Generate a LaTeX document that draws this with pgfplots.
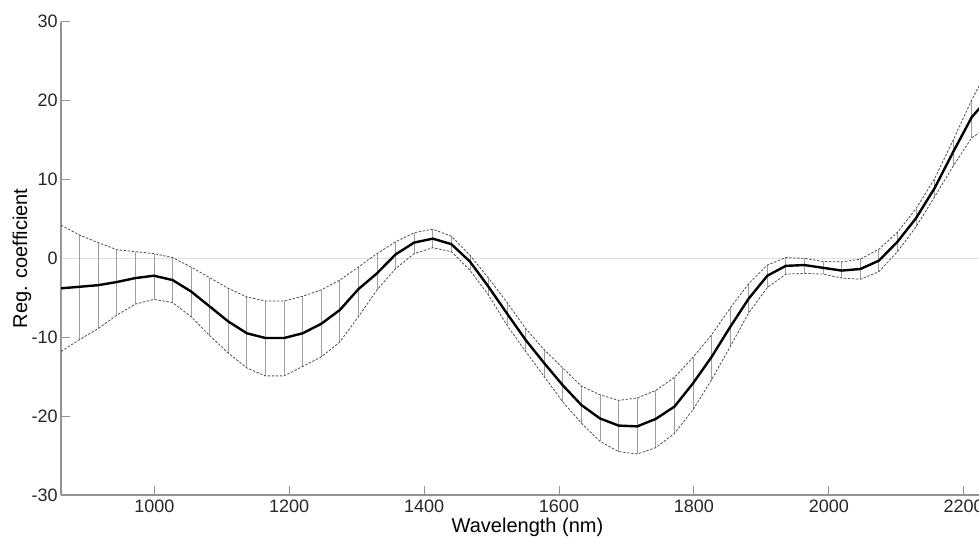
\documentclass[border=0pt]{standalone}
\usepackage{fontspec}
\setmainfont{Liberation Sans}
\usepackage{pgfplots}
\pgfplotsset{compat=1.18}
\usepackage{pgfplotstable}

\pgfplotstableread{
x      lo     y      up
861.6  -11.8  -3.8   4.2
889.2  -10.3  -3.6   2.95
916.7  -8.9   -3.4   2.0
944.3  -7.2   -3.0   1.1
971.8  -5.8   -2.5   0.85
999.4  -5.2   -2.2   0.6
1027.0 -5.6   -2.75  0.1
1054.5 -7.4   -4.2   -1.1
1082.1 -9.8   -6.1   -2.45
1109.6 -12.0  -8.0   -3.8
1137.2 -13.9  -9.5   -4.9
1164.8 -14.9  -10.1  -5.4
1192.3 -14.9  -10.1  -5.4
1219.9 -13.7  -9.5   -4.8
1247.4 -12.5  -8.3   -4.0
1275.0 -10.6  -6.55  -2.75
1302.6 -7.4   -3.9   -1.1
1330.1 -4.0   -1.9   0.6
1357.7 -1.3   0.5    2.1
1385.2 0.6    2.0    3.25
1412.8 1.35   2.5    3.7
1440.4 0.85   1.8    2.8
1467.9 -1.5   -0.4   0.4
1495.5 -4.65  -3.6   -2.5
1523.0 -8.5   -7.0   -5.6
1550.6 -11.8  -10.35 -8.9
1578.2 -15.0  -13.3  -11.6
1605.7 -18.2  -16.1  -13.9
1633.3 -20.9  -18.6  -16.2
1660.8 -23.2  -20.3  -17.3
1688.4 -24.5  -21.2  -18.0
1716.0 -24.8  -21.3  -17.7
1743.5 -24.0  -20.35 -16.75
1771.1 -22.2  -18.8  -15.1
1798.6 -19.2  -15.85 -12.55
1826.2 -15.4  -12.5  -9.7
1853.8 -11.2  -8.7   -6.3
1881.3 -6.9   -5.1   -3.2
1908.9 -3.7   -2.2   -0.85
1936.4 -2.0   -0.95  0.1
1964.0 -1.9   -0.85  0.0
1991.6 -2.0   -1.2   -0.4
2019.1 -2.5   -1.55  -0.45
2046.7 -2.65  -1.35  -0.1
2074.2 -1.7   -0.3   1.15
2101.8 0.85   2.1    3.3
2129.4 4.0    5.1    6.3
2156.9 7.8    8.9    10.1
2184.5 11.7   13.5   15.0
2212.0 15.3   17.9   20.1
2239.6 16.8   20.6   24.5
}\coef

\begin{document}
\begin{tikzpicture}
\begin{axis}[
  scale only axis, width=466.5pt, height=236.65pt,
  xmin=861.6, xmax=2245, ymin=-30, ymax=30,
  axis x line*=bottom, axis y line*=left,
  axis line style={gray!85, line width=0.6pt},
  xtick={1000,1200,...,2200}, ytick={-30,-20,...,30},
  tick align=inside, major tick length=4.5pt,
  tick style={gray!85, line width=0.5pt},
  /pgf/number format/assume math mode=true,
  /pgf/number format/1000 sep={},
  tick label style={font=\fontsize{9}{11}\selectfont, text=black!85},
  xticklabel style={inner sep=1pt, yshift=-1.2pt},
  yticklabel style={inner sep=1.5pt},
  xlabel={Wavelength (nm)}, ylabel={Reg. coefficient},
  label style={font=\fontsize{9.8}{12}\selectfont, text=black!85},
  every axis x label/.style={at={(axis description cs:0.5,0)}, anchor=center, yshift=-16pt},
  every axis y label/.style={at={(axis description cs:-0.0418,0.5)}, anchor=center, rotate=90},
]
\addplot[gray!25, line width=0.4pt, forget plot] coordinates {(861.6,0) (2245,0)};
\addplot[draw=none, mark=none, forget plot,
  error bars/.cd, y dir=both, y explicit,
  error bar style={draw=gray!75, line width=0.4pt}, error mark=none]
  table[x=x, y=y, y error plus expr=\thisrow{up}-\thisrow{y}, y error minus expr=\thisrow{y}-\thisrow{lo}] {\coef};
\addplot[black!70, line width=0.4pt, dash pattern=on 1.2pt off 0.8pt, mark=none] table[x=x, y=up] {\coef};
\addplot[black!70, line width=0.4pt, dash pattern=on 1.2pt off 0.8pt, mark=none] table[x=x, y=lo] {\coef};
\addplot[black, line width=1.2pt, mark=none] table[x=x, y=y] {\coef};
\end{axis}
\pgfresetboundingbox
\path[use as bounding box] (-30.5pt,-21pt) rectangle (459pt,247.5pt);
\end{tikzpicture}
\end{document}
